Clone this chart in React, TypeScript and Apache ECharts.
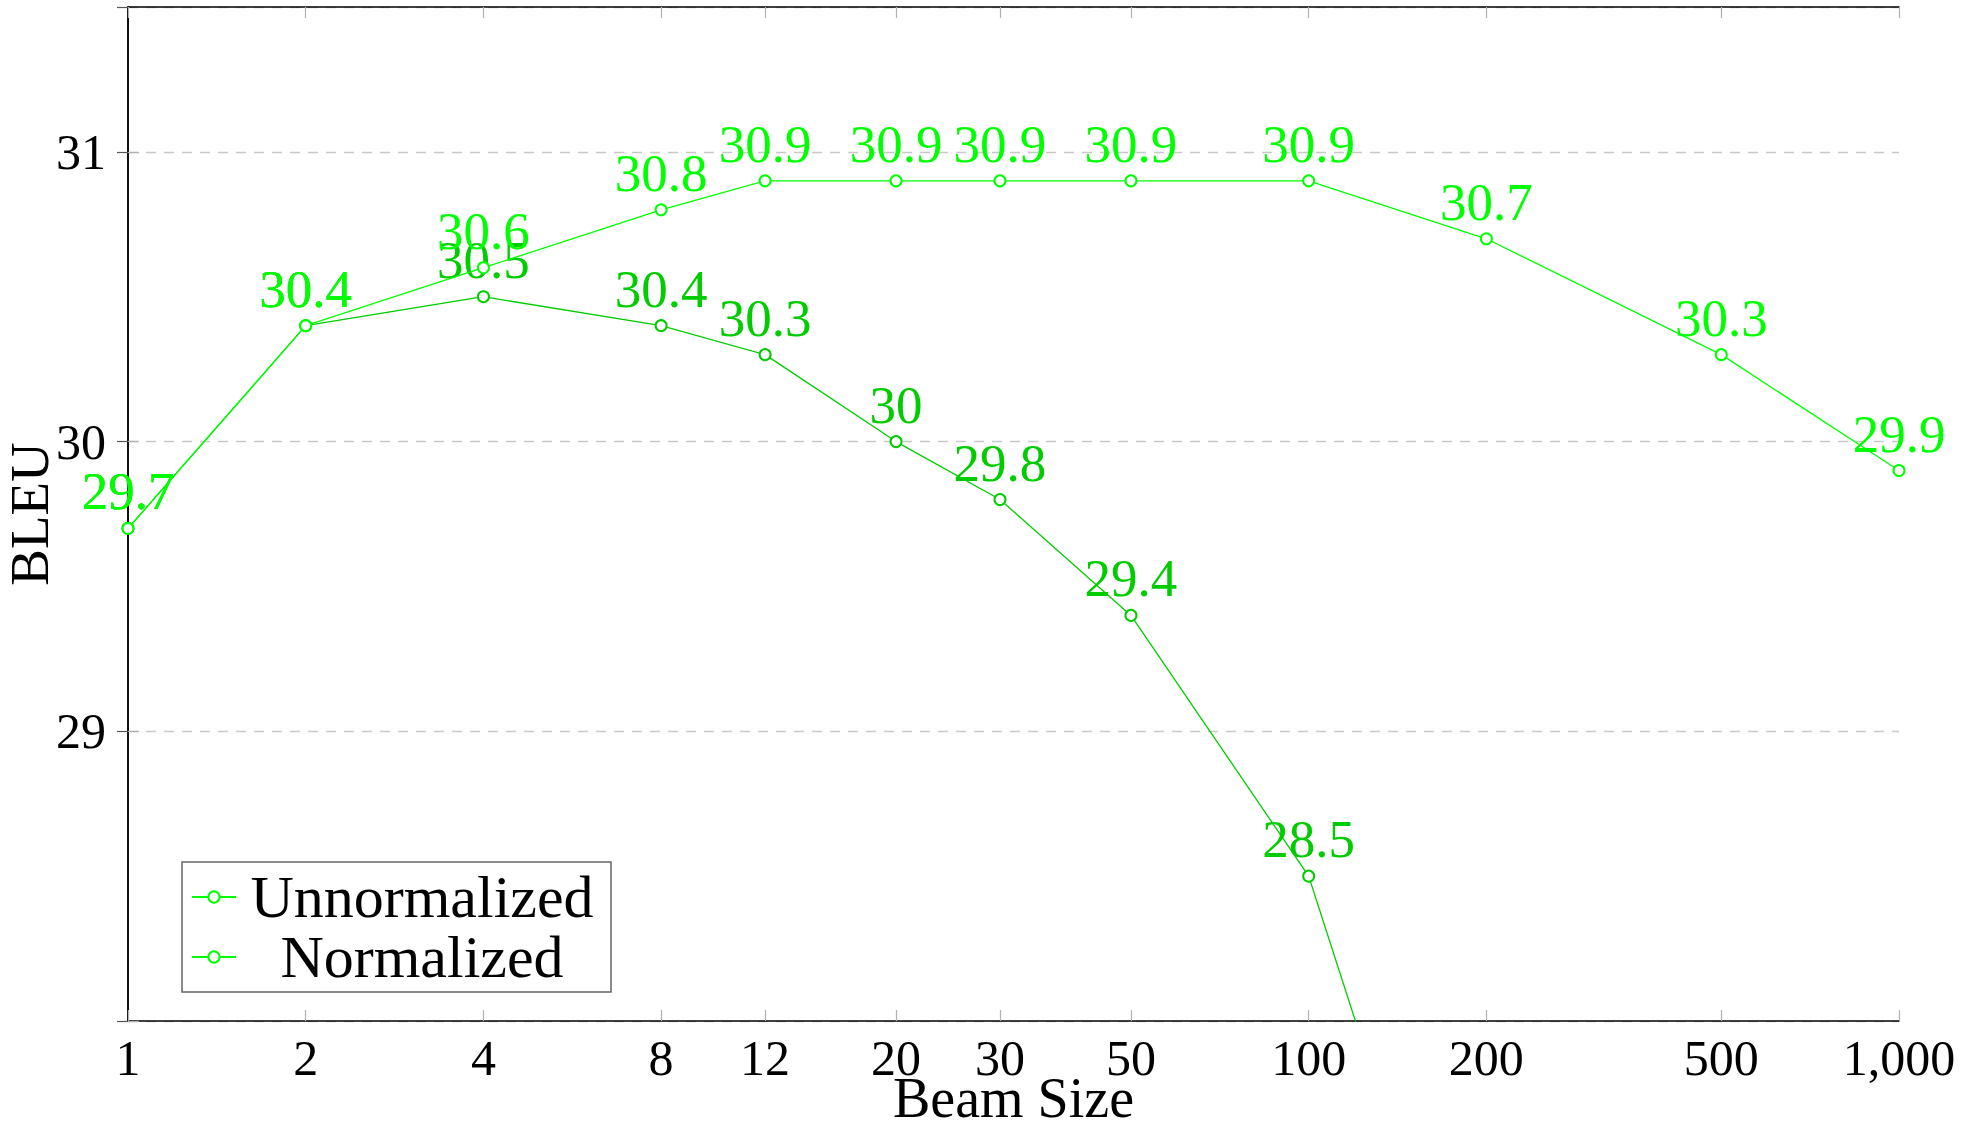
import React, { useEffect, useRef } from "react";
import * as echarts from "echarts";

const beamSizes = [1, 2, 4, 8, 12, 20, 30, 50, 100, 200, 500, 1000];
const unnormalizedBleu = [29.7, 30.4, 30.5, 30.4, 30.3, 30.0, 29.8, 29.4, 28.5, 26.6];
const normalizedBleu = [29.7, 30.4, 30.6, 30.8, 30.9, 30.9, 30.9, 30.9, 30.9, 30.7, 30.3, 29.9];
const xTickValues = [1, 2, 4, 8, 12, 20, 30, 50, 100, 200, 500, 1000];
const yTickLabels = [29, 30, 31];
const yMin = 28;
const yMax = 31.5;

const FONT = "Liberation Serif";
const UNNORM_COLOR = "#00cc00";
const NORM_COLOR = "#00ff00";

function buildData(values: number[]) {
  return values.map((v, i) => {
    const item: any = { value: [Math.log10(beamSizes[i]), v] };
    if (v < yMin || v > yMax) item.label = { show: false };
    return item;
  });
}

const fmtBeam = (v: number) => Math.round(Math.pow(10, v)).toLocaleString("en-US");

export default function App() {
  const ref = useRef<HTMLDivElement>(null);
  useEffect(() => {
    if (!ref.current) return;
    const chart = echarts.init(ref.current, null, { renderer: "svg" });
    const tickLogs = xTickValues.map((t) => Math.log10(t));
    const tickStyle = { show: true, inside: true, length: 11, lineStyle: { color: "#b0b0b0", width: 1.2 } };
    const option: any = {
      animation: false,
      backgroundColor: "#ffffff",
      textStyle: { fontFamily: FONT },
      grid: { left: 128, right: 85, top: 7, bottom: 105, containLabel: false, outerBoundsMode: "none" },
      legend: {
        orient: "vertical",
        left: 182,
        top: 862,
        itemWidth: 44,
        itemHeight: 14,
        itemGap: 0,
        padding: [5, 8, 5, 9],
        borderColor: "#666666",
        borderWidth: 1.5,
        backgroundColor: "#ffffff",
        data: [
          {
            name: "Unnormalized",
            itemStyle: { color: NORM_COLOR, borderColor: NORM_COLOR },
            lineStyle: { color: NORM_COLOR, type: "solid" },
          },
          {
            name: "Normalized",
            itemStyle: { color: NORM_COLOR, borderColor: NORM_COLOR },
            lineStyle: { color: NORM_COLOR, type: "solid" },
          },
        ],
        formatter: (name: string) => `{t|${name}}`,
        textStyle: {
          fontFamily: FONT,
          color: "#000",
          rich: { t: { fontFamily: FONT, fontSize: 60, lineHeight: 58, width: 362, align: "center", color: "#000" } },
        },
      },
      xAxis: [
        {
          type: "value",
          position: "bottom",
          min: 0,
          max: 3,
          name: "Beam Size",
          nameLocation: "middle",
          nameGap: 49,
          nameMoveOverlap: false,
          nameTextStyle: { fontFamily: FONT, fontSize: 56, color: "#000" },
          axisLine: { show: true, lineStyle: { color: "#000", width: 1.5 } },
          axisTick: { ...tickStyle, customValues: tickLogs },
          axisLabel: {
            customValues: tickLogs,
            formatter: fmtBeam,
            fontFamily: FONT,
            fontSize: 50,
            color: "#000",
            margin: 12,
            showMinLabel: true,
            showMaxLabel: true,
          },
          splitLine: { show: false },
        },
        {
          type: "value",
          position: "top",
          min: 0,
          max: 3,
          axisLine: { show: true, lineStyle: { color: "#000", width: 1.5 } },
          axisTick: { ...tickStyle, customValues: tickLogs },
          axisLabel: { show: false, customValues: tickLogs },
          splitLine: { show: false },
        },
      ],
      yAxis: [
        {
          type: "value",
          position: "left",
          min: yMin,
          max: yMax,
          interval: 1,
          name: "BLEU",
          nameLocation: "middle",
          nameGap: 71,
          nameMoveOverlap: false,
          nameTextStyle: { fontFamily: FONT, fontSize: 55, color: "#000" },
          axisLine: { show: true, lineStyle: { color: "#000", width: 1.5 } },
          axisTick: tickStyle,
          axisLabel: {
            formatter: (v: number) => (yTickLabels.indexOf(v) >= 0 ? String(v) : ""),
            fontFamily: FONT,
            fontSize: 50,
            color: "#000",
            margin: 22,
            showMaxLabel: false,
          },
          splitLine: { show: true, lineStyle: { type: [10, 8], color: "#c8c8c8", width: 1.3 } },
        },
        {
          type: "value",
          position: "right",
          min: yMin,
          max: yMax,
          interval: 1,
          axisLine: { show: true, lineStyle: { color: "#000", width: 1.5 } },
          axisTick: { ...tickStyle, lineStyle: { color: "#555", width: 1.2 } },
          axisLabel: { show: false },
          splitLine: { show: false },
        },
      ],
      series: [
        {
          name: "Unnormalized",
          type: "line",
          xAxisIndex: 0,
          yAxisIndex: 0,
          data: buildData(unnormalizedBleu),
          symbol: "emptyCircle",
          symbolSize: 11,
          clip: true,
          lineStyle: { color: UNNORM_COLOR, width: 1.3 },
          itemStyle: { color: UNNORM_COLOR, borderColor: UNNORM_COLOR, borderWidth: 1.3 },
          label: {
            show: true,
            position: "top",
            distance: 4,
            fontFamily: FONT,
            fontSize: 53,
            color: UNNORM_COLOR,
            formatter: (p: any) => String(p.value[1]),
          },
          z: 2,
        },
        {
          name: "Normalized",
          type: "line",
          xAxisIndex: 0,
          yAxisIndex: 0,
          data: buildData(normalizedBleu),
          symbol: "emptyCircle",
          symbolSize: 11,
          clip: true,
          lineStyle: { color: NORM_COLOR, width: 1.3 },
          itemStyle: { color: NORM_COLOR, borderColor: NORM_COLOR, borderWidth: 1.3 },
          label: {
            show: true,
            position: "top",
            distance: 4,
            fontFamily: FONT,
            fontSize: 53,
            color: NORM_COLOR,
            formatter: (p: any) => String(p.value[1]),
          },
          z: 3,
        },
      ],
    };
    chart.setOption(option);
    return () => chart.dispose();
  }, []);
  return (
    <div
      ref={ref}
      style={{ position: "fixed", left: 0, top: 0, width: 1984, height: 1126, background: "#fff" }}
    />
  );
}
